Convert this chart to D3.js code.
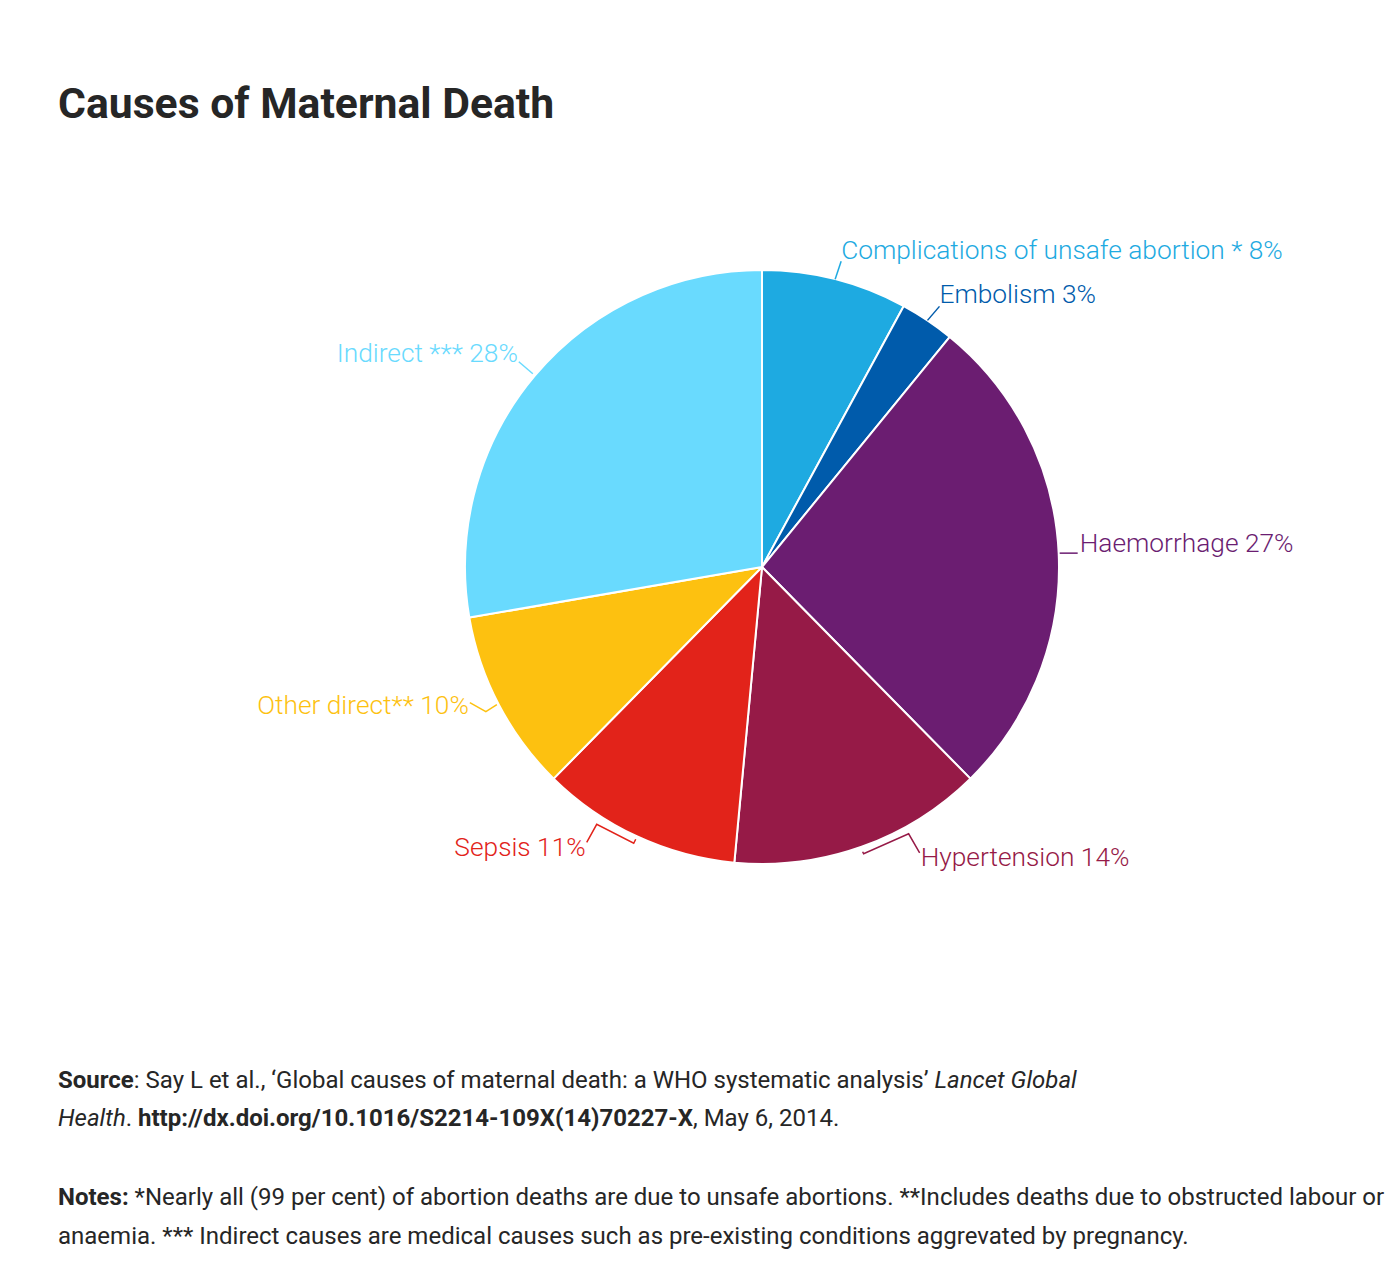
<!DOCTYPE html>
<html>
<head>
<meta charset="utf-8">
<script src="https://cdn.jsdelivr.net/npm/d3@7"></script>
<style>
  body { margin: 0; background: #fff; }
  svg text { font-family: Roboto, "Noto Sans", sans-serif; }
</style>
</head>
<body>
<div id="chart"></div>
<script>
// slices, clockwise from 12 o'clock (values as printed, they add up to 101)
const categories = ["Complications of unsafe abortion *", "Embolism", "Haemorrhage", "Hypertension", "Sepsis", "Other direct**", "Indirect ***"];
const shares = [8, 3, 27, 14, 11, 10, 28];
const colours = ["#1eaae1", "#005bab", "#6b1d71", "#961a47", "#e2231a", "#fdc110", "#69dafe"];

// label placement relative to the point on the rim at each slice's mid angle
const labelLayout = [
  {anchor: "start", at: [6, -20],  line: [[0, 0], [6, -18]]},
  {anchor: "start", at: [12, -17], line: [[0, 0], [12, -14]]},
  {anchor: "start", at: [21, -1],  line: [[1, 0], [19, 0]]},
  {anchor: "start", at: [59, 19],  line: [[1, 5], [2, 7], [47, -13], [58, 6]]},
  {anchor: "end",   at: [-51, 20], line: [[-1, 3], [-3, 7], [-40, -12], [-50, 6]]},
  {anchor: "end",   at: [-30, 9],  line: [[-2, 0], [-13, 7], [-29, -2]]},
  {anchor: "end",   at: [-17, -14], line: [[-2, -2], [-16, -14]]}
];

const data = categories.map((c, i) => ({category: c, value: shares[i], colour: colours[i], layout: labelLayout[i]}));

const width = 1386, height = 1264;
const cx = 762, cy = 567, radius = 297;

const svg = d3.select("#chart").append("svg").attr("width", width).attr("height", height);

svg.append("text")
  .attr("x", 58).attr("y", 118)
  .attr("font-size", 42.7).attr("font-weight", 700).attr("fill", "#262626")
  .text("Causes of Maternal Death");

const pie = d3.pie().value(d => d.value).sort(null);
const arc = d3.arc().innerRadius(0).outerRadius(radius);
const rim = d3.arc().innerRadius(radius).outerRadius(radius);
const arcs = pie(data);

const chartG = svg.append("g").attr("transform", `translate(${cx},${cy})`);

chartG.selectAll("path.slice")
  .data(arcs)
  .join("path")
  .attr("class", "slice")
  .attr("d", arc)
  .attr("fill", d => d.data.colour)
  .attr("stroke", "white")
  .attr("stroke-width", 2)
  .attr("stroke-linejoin", "round");

// connectors
chartG.selectAll("path.connector")
  .data(arcs)
  .join("path")
  .attr("class", "connector")
  .attr("d", d => {
    const [ex, ey] = rim.centroid(d);
    return d3.line()(d.data.layout.line.map(p => [ex + p[0], ey + p[1]]));
  })
  .attr("fill", "none")
  .attr("stroke", d => d.data.colour)
  .attr("stroke-width", 1.5);

chartG.selectAll("text.label")
  .data(arcs)
  .join("text")
  .attr("class", "label")
  .attr("x", d => rim.centroid(d)[0] + d.data.layout.at[0])
  .attr("y", d => rim.centroid(d)[1] + d.data.layout.at[1])
  .attr("text-anchor", d => d.data.layout.anchor)
  .attr("font-size", 26.3)
  .attr("font-weight", 300)
  .attr("fill", d => d.data.colour)
  .text(d => `${d.data.category} ${d.data.value}%`);

// footnotes
const foot = svg.append("g").attr("font-size", 24).attr("fill", "#262626");

const addLine = (y, parts) => {
  const t = foot.append("text").attr("x", 58).attr("y", y);
  parts.forEach(p => {
    t.append("tspan")
      .attr("font-weight", p.b ? 700 : 400)
      .attr("font-style", p.i ? "italic" : "normal")
      .text(p.t);
  });
};

addLine(1088, [{t: "Source", b: true}, {t: ": Say L et al., \u2018Global causes of maternal death: a WHO systematic analysis\u2019 "}, {t: "Lancet Global", i: true}]);
addLine(1126, [{t: "Health", i: true}, {t: ". "}, {t: "http://dx.doi.org/10.1016/S2214-109X(14)70227-X", b: true}, {t: ", May 6, 2014."}]);
addLine(1205, [{t: "Notes:", b: true}, {t: " *Nearly all (99 per cent) of abortion deaths are due to unsafe abortions. **Includes deaths due to obstructed labour or"}]);
addLine(1244, [{t: "anaemia. *** Indirect causes are medical causes such as pre-existing conditions aggrevated by pregnancy."}]);
</script>
</body>
</html>
